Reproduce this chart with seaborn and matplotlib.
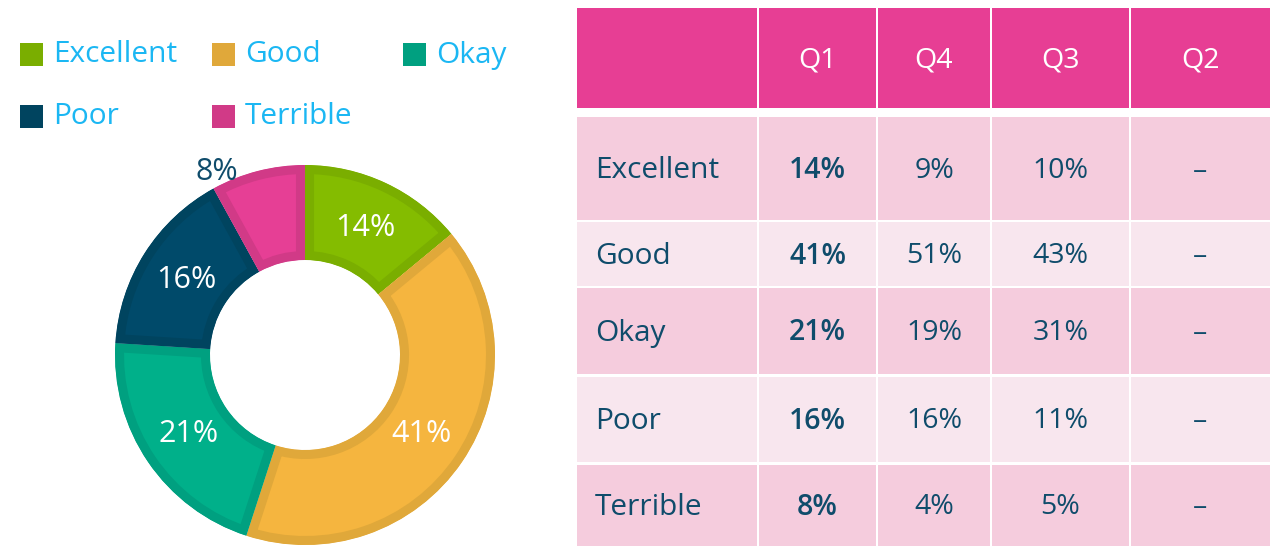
import numpy as np
import matplotlib.pyplot as plt
import seaborn as sns
from matplotlib.patches import Rectangle

# Data
categories = ['Excellent', 'Good', 'Okay', 'Poor', 'Terrible']
q1_share = [14, 41, 21, 16, 8]
q4_share = [9, 51, 19, 16, 4]
q3_share = [10, 43, 31, 11, 5]
q2_share = [None, None, None, None, None]
quarters = ['Q1', 'Q4', 'Q3', 'Q2']

fill_colors = ['#84BC00', '#F5B53F', '#00B08A', '#004A6A', '#E63F95']
edge_colors = ['#7AAE00', '#E0A83A', '#00A080', '#00445F', '#D13A87']

sns.set_theme(style='white')
plt.rcParams['font.family'] = ['Open Sans', 'DejaVu Sans']

text_blue = '#0F4C6B'
legend_blue = '#1BB7F3'
header_pink = '#E73E94'
row_pinks = ['#F5CCDD', '#F8E6EE']

W, H = 1272, 546
fig = plt.figure(figsize=(W / 100, H / 100), dpi=100)

# Overlay axes in pixel coordinates for legend + table
ov = fig.add_axes([0, 0, 1, 1])
ov.set_xlim(0, W)
ov.set_ylim(H, 0)
ov.axis('off')

# Legend (laid out as in the reference: 3 columns, 2 rows)
leg_cols = [20, 212, 403]
leg_rows = [54, 116]
leg_slots = [(0, 0), (0, 1), (0, 2), (1, 0), (1, 1)]
for (r, c), name, col in zip(leg_slots, categories, edge_colors):
    x, y = leg_cols[c], leg_rows[r]
    ov.add_patch(Rectangle((x, y - 11.5), 23, 23, facecolor=col, edgecolor='none'))
    ov.text(x + 33, y + 1, name, fontsize=21.5, color=legend_blue, va='center', ha='left')

# Table
col_edges = [(577, 757), (759, 876), (878, 990), (992, 1129), (1131, 1270)]
header_span = (8, 108)
row_spans = [(117, 220), (222, 286), (288, 374), (377, 462), (465, 546)]
columns = [q1_share, q4_share, q3_share, q2_share]

for j, (x0, x1) in enumerate(col_edges):
    ov.add_patch(Rectangle((x0, header_span[0]), x1 - x0, header_span[1] - header_span[0],
                           facecolor=header_pink, edgecolor='none'))
    if j > 0:
        ov.text((x0 + x1) / 2, (header_span[0] + header_span[1]) / 2 + 3, quarters[j - 1],
                fontsize=20.5, color='white', ha='center', va='center')

for i, (y0, y1) in enumerate(row_spans):
    yc = (y0 + y1) / 2 + 2
    for j, (x0, x1) in enumerate(col_edges):
        ov.add_patch(Rectangle((x0, y0), x1 - x0, y1 - y0,
                               facecolor=row_pinks[i % 2], edgecolor='none'))
    ov.text(col_edges[0][0] + 18, yc, categories[i], fontsize=21.5, color=text_blue,
            ha='left', va='center')
    for j, vals in enumerate(columns):
        x0, x1 = col_edges[j + 1]
        v = vals[i]
        label = '–' if v is None else f'{v}%'
        ov.text((x0 + x1) / 2, yc, label, fontsize=20.5, color=text_blue,
                ha='center', va='center', fontweight='semibold' if j == 0 else 'normal')

# Donut chart
pie_ax = fig.add_axes([115 / W, 1 / H, 380 / W, 380 / H])
wedges, _ = pie_ax.pie(q1_share, colors=fill_colors, startangle=90, counterclock=False,
                       radius=1, wedgeprops=dict(width=0.5, linewidth=0))
for w, ec in zip(wedges, edge_colors):
    w.set_edgecolor(ec)
    w.set_linewidth(13)
    w.set_joinstyle('miter')
    w.set_clip_on(True)
    w.set_clip_path(w)

for w, v in zip(wedges, q1_share):
    lo, hi = sorted([w.theta1, w.theta2])
    if v < 10:
        ang, r, col = np.deg2rad(hi - 3), 1.07, text_blue
    else:
        ang, r, col = np.deg2rad((lo + hi) / 2), 0.74, 'white'
    pie_ax.text(r * np.cos(ang), r * np.sin(ang), f'{v}%', fontsize=22, color=col,
                ha='center', va='center', clip_on=False)

pie_ax.set_xlim(-1.0, 1.0)
pie_ax.set_ylim(-1.0, 1.0)
pie_ax.set_aspect('equal')
pie_ax.axis('off')

fig.savefig('out.png', dpi=100)
